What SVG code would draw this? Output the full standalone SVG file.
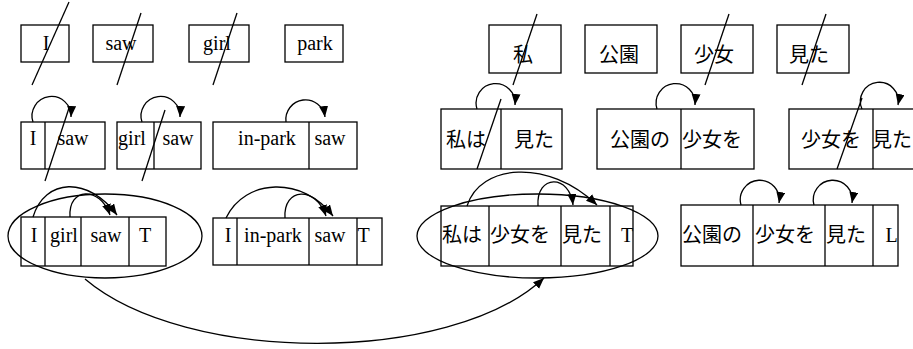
<svg xmlns="http://www.w3.org/2000/svg" width="913" height="349" viewBox="0 0 913 349">
<style>
.box{fill:#fff;stroke:#000;stroke-width:1.3}
.dv{stroke:#000;stroke-width:1.3}
.en{font-family:"Liberation Serif","Times New Roman",serif;font-size:20px;fill:#000;text-anchor:middle}
.ja{font-family:"Noto Sans CJK JP","Noto Sans CJK SC",sans-serif;font-size:20px;fill:#000;text-anchor:middle}
.cn{fill:none;stroke:#000;stroke-width:1.3}
.el{fill:none;stroke:#000;stroke-width:1.3}
.sl{stroke:#000;stroke-width:1.3}
</style>
<defs>
<marker id="ah" markerUnits="userSpaceOnUse" markerWidth="12" markerHeight="10" refX="11" refY="4.5" orient="auto">
<path d="M0,0 L11,4.5 L0,9 z" fill="#000"/>
</marker>
</defs>
<rect width="913" height="349" fill="#fff"/>

<!-- row 1 English -->
<g id="w_I"><rect class="box" x="21" y="25" width="48" height="37"/><text class="en" x="46" y="50">I</text></g>
<g id="w_saw"><rect class="box" x="93" y="25" width="60" height="37"/><text class="en" x="121" y="50">saw</text></g>
<g id="w_girl"><rect class="box" x="189" y="25" width="60" height="37"/><text class="en" x="217" y="50">girl</text></g>
<g id="w_park"><rect class="box" x="285" y="25" width="58" height="37"/><text class="en" x="315" y="50">park</text></g>

<!-- row 1 Japanese -->
<g id="j_watashi"><rect class="box" x="489" y="25" width="72" height="48"/><text class="ja" x="523" y="62">私</text></g>
<g id="j_kouen"><rect class="box" x="585" y="25" width="72" height="48"/><text class="ja" x="619" y="62">公園</text></g>
<g id="j_shoujo"><rect class="box" x="681" y="25" width="72" height="48"/><text class="ja" x="714" y="62">少女</text></g>
<g id="j_mita"><rect class="box" x="777" y="25" width="72" height="48"/><text class="ja" x="809" y="62">見た</text></g>

<!-- row 2 English -->
<g id="p_I_saw"><rect class="box" x="21" y="122" width="84" height="47"/><line class="dv" x1="45" y1="122" x2="45" y2="169"/><text class="en" x="33" y="145">I</text><text class="en" x="73" y="145">saw</text></g>
<g id="p_girl_saw"><rect class="box" x="117" y="122" width="84" height="47"/><line class="dv" x1="154" y1="122" x2="154" y2="169"/><text class="en" x="132" y="145">girl</text><text class="en" x="178" y="145">saw</text></g>
<g id="p_inpark_saw"><rect class="box" x="213" y="122" width="144" height="47"/><line class="dv" x1="309" y1="122" x2="309" y2="169"/><text class="en" x="267" y="145">in-park</text><text class="en" x="330" y="145">saw</text></g>

<!-- row 2 Japanese -->
<g id="p_watashiha_mita"><rect class="box" x="441" y="109" width="121" height="60"/><line class="dv" x1="501" y1="109" x2="501" y2="169"/><text class="ja" x="466" y="147">私は</text><text class="ja" x="534" y="147">見た</text></g>
<g id="p_kouenno_shoujowo"><rect class="box" x="597" y="109" width="157" height="60"/><line class="dv" x1="681" y1="109" x2="681" y2="169"/><text class="ja" x="640" y="147">公園の</text><text class="ja" x="712" y="147">少女を</text></g>
<g id="p_shoujowo_mita"><rect class="box" x="789" y="109" width="140" height="60"/><line class="dv" x1="873" y1="109" x2="873" y2="169"/><text class="ja" x="831" y="147">少女を</text><text class="ja" x="892" y="147">見た</text></g>

<!-- row 3 English -->
<g id="s_I_girl_saw_T"><rect class="box" x="21" y="217" width="145" height="49"/><line class="dv" x1="45" y1="217" x2="45" y2="266"/><line class="dv" x1="81" y1="217" x2="81" y2="266"/><line class="dv" x1="129" y1="217" x2="129" y2="266"/><text class="en" x="34" y="242">I</text><text class="en" x="64" y="242">girl</text><text class="en" x="106" y="242">saw</text><text class="en" x="145" y="242">T</text></g>
<g id="s_I_inpark_saw_T"><rect class="box" x="213" y="218" width="169" height="47"/><line class="dv" x1="237" y1="218" x2="237" y2="265"/><line class="dv" x1="309" y1="218" x2="309" y2="265"/><line class="dv" x1="357" y1="218" x2="357" y2="265"/><text class="en" x="228" y="242">I</text><text class="en" x="273" y="242">in-park</text><text class="en" x="330" y="242">saw</text><text class="en" x="363.5" y="242">T</text></g>

<!-- row 3 Japanese -->
<g id="s_watashiha_shoujowo_mita_T"><rect class="box" x="441" y="206" width="192" height="60"/><line class="dv" x1="489" y1="206" x2="489" y2="266"/><line class="dv" x1="561" y1="206" x2="561" y2="266"/><line class="dv" x1="610" y1="206" x2="610" y2="266"/><text class="ja" x="462" y="242">私は</text><text class="ja" x="520" y="242">少女を</text><text class="ja" x="582" y="242">見た</text><text class="en" x="627" y="242">T</text></g>
<g id="s_kouenno_shoujowo_mita_L"><rect class="box" x="681" y="205" width="217" height="61"/><line class="dv" x1="753" y1="205" x2="753" y2="266"/><line class="dv" x1="825" y1="205" x2="825" y2="266"/><line class="dv" x1="873" y1="205" x2="873" y2="266"/><text class="ja" x="712" y="242">公園の</text><text class="ja" x="785" y="242">少女を</text><text class="ja" x="846" y="242">見た</text><text class="en" x="891.5" y="242">L</text></g>

<!-- groupings -->
<g id="grp_en"><ellipse class="el" cx="105" cy="236" rx="97" ry="42"/></g>
<g id="grp_ja"><ellipse class="el" cx="537.5" cy="236" rx="120.5" ry="42"/></g>

<!-- strike-through lines -->
<g id="strikes">
<line class="sl" x1="69" y1="2" x2="32" y2="85"/>
<line class="sl" x1="141" y1="13" x2="117" y2="85"/>
<line class="sl" x1="237" y1="13" x2="213" y2="85"/>
<line class="sl" x1="537" y1="14" x2="513" y2="85"/>
<line class="sl" x1="729" y1="14" x2="705" y2="85"/>
<line class="sl" x1="826" y1="14" x2="802" y2="85"/>
<line class="sl" x1="69" y1="108" x2="45" y2="181"/>
<line class="sl" x1="165" y1="110" x2="142" y2="181"/>
<line class="sl" x1="501" y1="99" x2="477" y2="169"/>
<line class="sl" x1="862" y1="98" x2="837" y2="169"/>
</g>

<!-- connectors -->
<g id="connectors">
<path class="cn" marker-end="url(#ah)" d="M33,122 A19.5,19.5 0 1 1 71,117"/>
<path class="cn" marker-end="url(#ah)" d="M142,122 A19.5,19.5 0 1 1 180,117"/>
<path class="cn" marker-end="url(#ah)" d="M286,122 A19.5,19.5 0 1 1 325,117"/>
<path class="cn" marker-end="url(#ah)" d="M477,109 A19.5,19.5 0 1 1 515,105"/>
<path class="cn" marker-end="url(#ah)" d="M657,109 A19.5,19.5 0 1 1 695,105"/>
<path class="cn" marker-end="url(#ah)" d="M862,109 A19,19 0 1 1 898,105"/>
<path class="cn" marker-end="url(#ah)" d="M741,205 A19.5,19.5 0 1 1 779,203"/>
<path class="cn" marker-end="url(#ah)" d="M814,205 A19.5,19.5 0 1 1 852,203"/>
<path class="cn" marker-end="url(#ah)" d="M33,217 C45,178 88,176 117,215"/>
<path class="cn" marker-end="url(#ah)" d="M70,217 C68,187 100,186 110,215"/>
<path class="cn" marker-end="url(#ah)" d="M226,218 C245,178 303,176 333,216"/>
<path class="cn" marker-end="url(#ah)" d="M285,218 C283,187 316,186 326,216"/>
<path class="cn" marker-end="url(#ah)" d="M467,206 C480,164 548,158 597,205"/>
<path class="cn" marker-end="url(#ah)" d="M538,206 C536,174 570,174 573,205"/>
<path class="cn" marker-end="url(#ah)" d="M85,279 C185,364 450,366 544,278"/>
</g>
</svg>
